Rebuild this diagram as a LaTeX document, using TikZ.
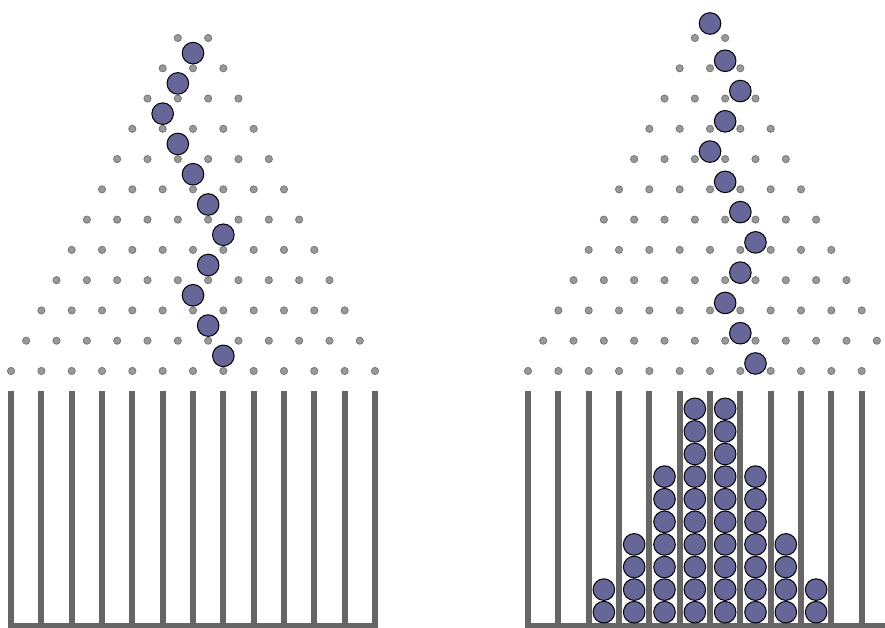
\documentclass[tikz,border=0pt]{standalone}
\definecolor{ballc}{HTML}{666699}
\definecolor{pegfill}{HTML}{999999}
\definecolor{pegline}{HTML}{777777}
\definecolor{barc}{HTML}{666666}
\tikzset{
  peg/.style={fill=pegfill, draw=pegline, line width=0.8pt},
  ball/.style={fill=ballc, draw=black, line width=1pt},
  binbar/.style={draw=barc, line width=6pt},
  baseline bar/.style={draw=barc, line width=5pt}
}
\begin{document}
\begin{tikzpicture}[x=1pt,y=-1pt]
\useasboundingbox (0,0) rectangle (885,628);
\clip (0,0) rectangle (885,628);
\def\d{30.33}
\def\dy{30.27}
% two boards: pegs, bars, base line
\foreach \cx in {193,710} {
  \foreach \k in {0,...,11} {
    \pgfmathtruncatemacro\n{\k+1}
    \foreach \j in {0,...,\n} {
      \pgfmathsetmacro\px{\cx+(2*\j-\k-1)*\d/2}
      \pgfmathsetmacro\py{38+\k*\dy}
      \path[peg] (\px,\py) circle (3.6pt);
    }
  }
  \foreach \i in {0,...,12} {
    \pgfmathsetmacro\bx{\cx+(\i-6)*\d}
    \draw[binbar] (\bx,391) -- (\bx,624);
  }
  \pgfmathsetmacro\la{\cx-6*\d-3}
  \pgfmathsetmacro\lb{\cx+6*\d+3}
  \draw[baseline bar] (\la,625.5) -- (\lb,625.5);
}
% left board: falling ball path
\foreach \o [count=\c from 0] in {0,-1,-2,-1,0,1,2,1,0,1,2} {
  \pgfmathsetmacro\bx{193+\o*\d/2}
  \pgfmathsetmacro\by{38+(\c+0.5)*\dy}
  \path[ball] (\bx,\by) circle (10.8pt);
}
% right board: ball path resting on pegs
\path[ball] (710,23.5) circle (10.8pt);
\foreach \o [count=\c from 1] in {1,2,1,0,1,2,3,2,1,2,3} {
  \pgfmathsetmacro\bx{710+\o*\d/2}
  \pgfmathsetmacro\by{38+\c*\dy-7.5}
  \path[ball] (\bx,\by) circle (10.8pt);
}
% right board: stacked balls in bins
\foreach \n [count=\i from 0] in {0,0,2,4,7,10,10,7,4,2,0,0} {
  \ifnum\n>0
    \pgfmathsetmacro\bx{710+(\i-5.5)*\d}
    \pgfmathtruncatemacro\top{\n-1}
    \foreach \m in {0,...,\top} {
      \pgfmathsetmacro\by{612.2-\m*22.6}
      \path[ball] (\bx,\by) circle (10.8pt);
    }
  \fi
}
\end{tikzpicture}
\end{document}
